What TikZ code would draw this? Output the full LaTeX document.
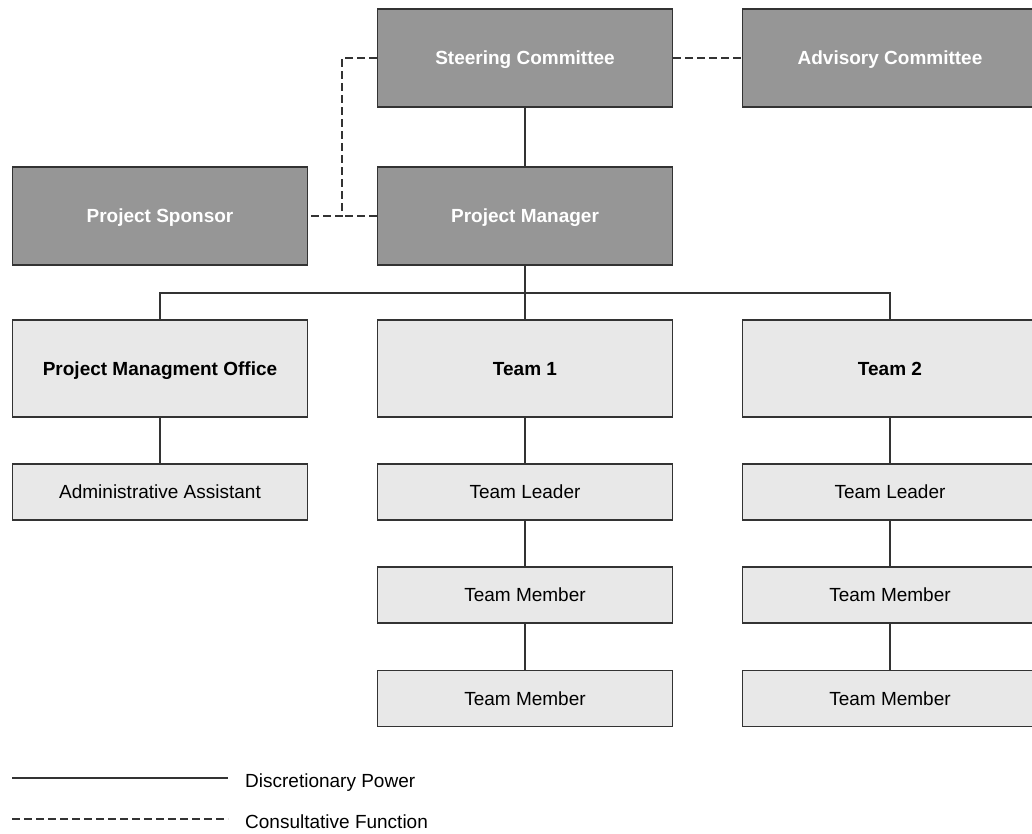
\documentclass[tikz,border=0pt]{standalone}
\usepackage{fontspec}
\setmainfont{Liberation Sans}

\tikzstyle{block} = [draw, rectangle, line width=1.6pt, minimum height=98pt, minimum width=295pt, text height=13.7pt, text depth=0pt]
\tikzstyle{small} = [block, minimum height=56pt]
\tikzstyle{head} = [font=\fontsize{19}{22}\selectfont\bfseries]
\tikzstyle{power} = [line width=1.5pt]
\tikzstyle{consult} = [line width=1.5pt, dash pattern=on 8pt off 4pt]

\begin{document}
\begin{tikzpicture} [x=1pt, y=-1pt, font=\fontsize{19}{22}\selectfont]

\def\colL{black!80};
\def\fillD{black!41};
\def\fillL{black!9};

\useasboundingbox (0,0) rectangle (1032,834);

% top rows
\node at (525,58)[block,head,draw=\colL,fill=\fillD,
                  text=white]
                  (SC) {Steering Committee};

\node at (890,58)[block,head,draw=\colL,fill=\fillD,
                  text=white]
                  (AC) {Advisory Committee};

\node at (160,216)[block,head,draw=\colL,fill=\fillD,
                   text=white]
                   (PS) {Project Sponsor};

\node at (525,216)[block,head,draw=\colL,fill=\fillD,
                   text=white]
                   (PM) {Project Manager};

% teams
\node at (160,368.5)[block,head,draw=\colL,fill=\fillL,
                     minimum height=97pt]
                     (PMO) {Project Managment Office};

\node at (525,368.5)[block,head,draw=\colL,fill=\fillL,
                     minimum height=97pt]
                     (T1) {Team 1};

\node at (890,368.5)[block,head,draw=\colL,fill=\fillL,
                     minimum height=97pt]
                     (T2) {Team 2};

\node at (160,492)[small,draw=\colL,fill=\fillL]
                  (AA) {Administrative Assistant};

\node at (525,492)[small,draw=\colL,fill=\fillL]
                  (TLa) {Team Leader};

\node at (890,492)[small,draw=\colL,fill=\fillL]
                  (TLb) {Team Leader};

\node at (525,595)[small,draw=\colL,fill=\fillL]
                  (TMa) {Team Member};

\node at (890,595)[small,draw=\colL,fill=\fillL]
                  (TMb) {Team Member};

\node at (525,698.5)[small,draw=\colL,fill=\fillL]
                    (TMc) {Team Member};

\node at (890,698.5)[small,draw=\colL,fill=\fillL]
                    (TMd) {Team Member};

% connectors
\coordinate (J) at (342,216);
\coordinate (B) at (525,293);

\draw[consult,\colL]
      (SC.west) -| (J) -- (PS.east);
\draw[consult,\colL]
      (PM.west) -- (J);
\draw[consult,\colL]
      (SC.east) -- (AC.west);

\draw[power,\colL]
      (SC.south) -- (PM.north);
\draw[power,\colL]
      (PM.south) -- (T1.north);
\draw[power,\colL]
      (PMO.north) |- (B) -| (T2.north);

\draw[power,\colL] (PMO.south) -- (AA.north);
\draw[power,\colL] (T1.south) -- (TLa.north);
\draw[power,\colL] (TLa.south) -- (TMa.north);
\draw[power,\colL] (TMa.south) -- (TMc.north);
\draw[power,\colL] (T2.south) -- (TLb.north);
\draw[power,\colL] (TLb.south) -- (TMb.north);
\draw[power,\colL] (TMb.south) -- (TMd.north);

% legend
\coordinate (La) at (12,778);
\coordinate (Lb) at (228,778);
\coordinate (Lc) at (12,819);
\coordinate (Ld) at (228,819);

\draw[power,\colL] (La) -- (Lb);
\draw[consult,\colL] (Lc) -- (Ld);

\node[anchor=west,inner sep=0pt] at (245,783)
      (LP) {Discretionary Power};
\node[anchor=west,inner sep=0pt] at (245,822)
      (LF) {Consultative Function};

\end{tikzpicture}
\end{document}
